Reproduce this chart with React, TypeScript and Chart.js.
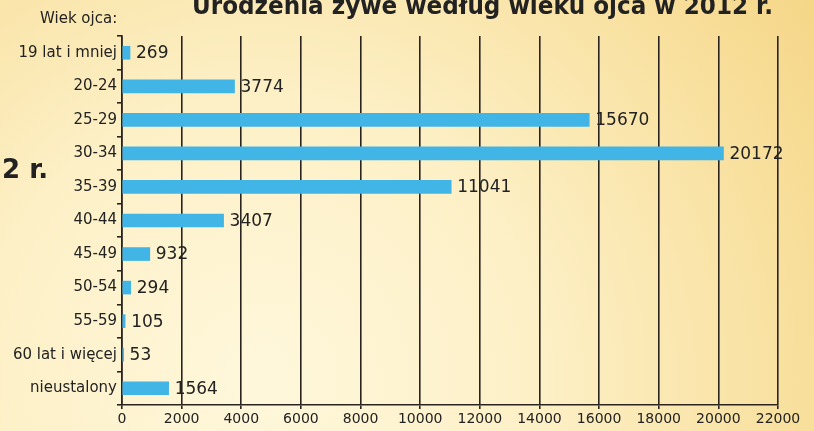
import React, { useEffect, useRef } from "react";
import { Chart, registerables } from "chart.js";

Chart.register(...registerables);

const categories: string[] = [
  "19 lat i mniej",
  "20-24",
  "25-29",
  "30-34",
  "35-39",
  "40-44",
  "45-49",
  "50-54",
  "55-59",
  "60 lat i więcej",
  "nieustalony",
];

const births: number[] = [269, 3774, 15670, 20172, 11041, 3407, 932, 294, 105, 53, 1564];

const xTicks: number[] = [0, 2000, 4000, 6000, 8000, 10000, 12000, 14000, 16000, 18000, 20000, 22000];

const titleText = "Urodzenia żywe według wieku ojca w 2012 r.";
const axisCaption = "Wiek ojca:";
const sideFragment = "2 r.";

const FONT = "'DejaVu Sans', 'Noto Sans', sans-serif";
const INK = "#2a2420";

const backgroundPlugin = {
  id: "bgGradient",
  beforeDraw(chart: any) {
    const { ctx, width, height } = chart;
    ctx.save();
    const g = ctx.createRadialGradient(260, 380, 20, 260, 380, 680);
    g.addColorStop(0, "#fff7da");
    g.addColorStop(0.4, "#fdf0c6");
    g.addColorStop(1, "#f5d686");
    ctx.fillStyle = g;
    ctx.fillRect(0, 0, width, height);
    ctx.restore();
  },
};

const textPlugin = {
  id: "extraTexts",
  afterDraw(chart: any) {
    const { ctx } = chart;
    ctx.save();
    ctx.fillStyle = "#222222";
    ctx.font = `bold 25px ${FONT}`;
    ctx.textBaseline = "alphabetic";
    ctx.textAlign = "left";
    const w = ctx.measureText(titleText).width;
    const target = 581;
    ctx.save();
    ctx.translate(192, 14);
    ctx.scale(target / w, 1);
    ctx.fillText(titleText, 0, 0);
    ctx.restore();
    ctx.font = `15px ${FONT}`;
    ctx.fillText(axisCaption, 40, 23);
    ctx.font = `bold 26px ${FONT}`;
    ctx.fillText(sideFragment, 2, 178);
    ctx.restore();
  },
};

const valueLabelPlugin = {
  id: "valueLabels",
  afterDatasetsDraw(chart: any) {
    const { ctx } = chart;
    const meta = chart.getDatasetMeta(0);
    ctx.save();
    ctx.font = `17px ${FONT}`;
    ctx.fillStyle = "#222222";
    ctx.textAlign = "left";
    ctx.textBaseline = "middle";
    meta.data.forEach((bar: any, i: number) => {
      const v = chart.data.datasets[0].data[i];
      ctx.fillText(String(v), bar.x + 6, bar.y + 1);
    });
    ctx.restore();
  },
};

export default function App() {
  const ref = useRef<HTMLCanvasElement | null>(null);

  useEffect(() => {
    if (!ref.current) return;
    const chart = new Chart(ref.current, {
      type: "bar",
      data: {
        labels: categories,
        datasets: [
          {
            data: births,
            backgroundColor: "#42b5e7",
            borderWidth: 0,
            barThickness: 13,
          },
        ],
      },
      options: {
        indexAxis: "y",
        responsive: false,
        animation: false,
        layout: { padding: { left: 0, right: 36, top: 36, bottom: 0 } },
        plugins: {
          legend: { display: false },
          tooltip: { enabled: false },
          title: { display: false },
        },
        scales: {
          x: {
            type: "linear",
            min: 0,
            max: 22000,
            afterBuildTicks(scale: any) {
              scale.ticks = xTicks.map((v) => ({ value: v }));
            },
            afterFit(scale: any) {
              scale.height = 26;
            },
            grid: {
              display: true,
              drawOnChartArea: true,
              drawTicks: true,
              tickLength: 4,
              color: INK,
              lineWidth: 1.6,
            },
            border: { display: true, color: INK, width: 1.6 },
            ticks: {
              padding: 2,
              color: "#222222",
              font: { family: FONT, size: 14 },
              maxRotation: 0,
              autoSkip: false,
              callback: (v: any) => String(v),
            },
          },
          y: {
            type: "category",
            afterFit(scale: any) {
              scale.width = 122;
            },
            grid: {
              display: true,
              drawOnChartArea: false,
              drawTicks: true,
              tickLength: 5,
              offset: true,
              color: INK,
              lineWidth: 1.6,
            },
            border: { display: true, color: INK, width: 1.6 },
            ticks: {
              padding: 0,
              color: "#222222",
              font: { family: FONT, size: 15 },
              autoSkip: false,
            },
          },
        },
      },
      plugins: [backgroundPlugin, valueLabelPlugin, textPlugin],
    });
    return () => chart.destroy();
  }, []);

  return (
    <div style={{ position: "absolute", left: 0, top: 0, width: 814, height: 431 }}>
      <canvas ref={ref} width={814} height={431} style={{ display: "block" }} />
    </div>
  );
}
